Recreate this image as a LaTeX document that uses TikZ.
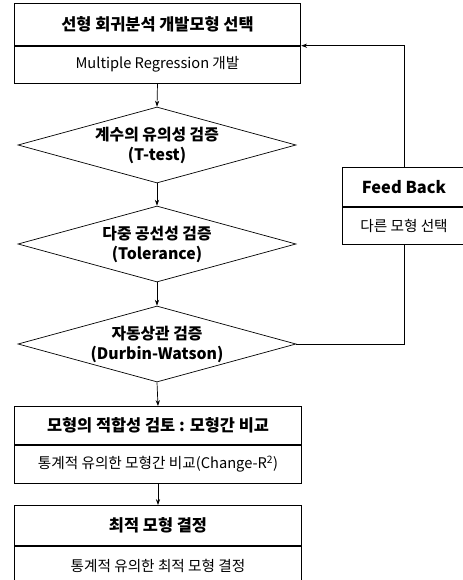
\documentclass[tikz,border=0pt]{standalone}
\usepackage{fontspec}
\setmainfont{Noto Sans CJK KR}
\usetikzlibrary{positioning,shapes.geometric,arrows.meta}

\tikzset{
    >={Stealth[length=5pt,width=3.6pt]},
    every path/.style={line width=0.6pt},
    headbox/.style={draw, rectangle, minimum width=8.6cm, minimum height=1.2cm, inner sep=0pt,
        font=\fontsize{14}{16}\selectfont\bfseries},
    bodybox/.style={draw, rectangle, minimum width=8.6cm, minimum height=1.14cm, inner sep=0pt,
        font=\fontsize{12.5}{15}\selectfont},
    testdia/.style={draw, diamond, shape aspect=3.66, minimum width=8.34cm, minimum height=2.28cm,
        inner sep=0pt, align=center, font=\fontsize{13.5}{17}\selectfont\bfseries},
}

\begin{document}
\begin{tikzpicture}[x=0.03cm, y=-0.03cm]
    \useasboundingbox (0,0) rectangle (462,580);
    % model selection
    \node[headbox, minimum height=1.26cm, anchor=north] (select) at (157.5,3) {선형 회귀분석 개발모형 선택};
    \node[bodybox, minimum height=1.11cm, below=0pt of select] (selectb) {Multiple Regression 개발};
    % tests
    \node[testdia] (ttest) at (157,145) {계수의 유의성 검증\\(T-test)};
    \node[testdia] (tol) at (157,244) {다중 공선성 검증\\(Tolerance)};
    \node[testdia] (dw) at (157,344) {자동상관 검증\\(Durbin-Watson)};
    % comparison and decision
    \node[headbox, minimum height=1.14cm, anchor=north] (fit) at (158,406) {모형의 적합성 검토 : 모형간 비교};
    \node[bodybox, below=0pt of fit] (fitb) {통계적 유의한 모형간 비교(Change-R\textsuperscript{2})};
    \node[headbox, anchor=north] (best) at (158,505) {최적 모형 결정};
    \node[bodybox, minimum height=1.2cm, below=0pt of best] (bestb) {통계적 유의한 최적 모형 결정};
    % feedback
    \node[headbox, minimum width=3.72cm, minimum height=1.17cm, anchor=north] (fb) at (404,167) {Feed Back};
    \node[bodybox, minimum width=3.72cm, minimum height=1.11cm, below=0pt of fb] (fbb) {다른 모형 선택};

    \draw[->] (selectb.south) -- (ttest.north);
    \draw[->] (ttest.south) -- (tol.north);
    \draw[->] (tol.south) -- (dw.north);
    \draw[->] (dw.south) -- (fit.north);
    \draw[->] (fitb.south) -- (best.north);
    \draw (dw.east) -| (fbb.south);
    \draw[->] (fb.north) |- (select.south east);
\end{tikzpicture}
\end{document}
